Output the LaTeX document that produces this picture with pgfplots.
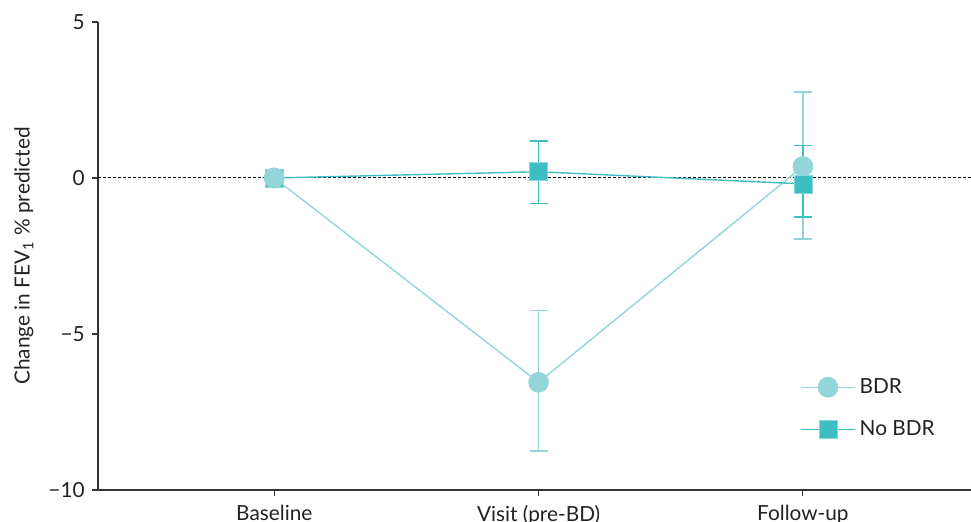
\documentclass[border=0pt]{standalone}
\usepackage{pgfplots}
\pgfplotsset{compat=1.18}
\usepackage{fontspec}
\setmainfont{Lato}
\definecolor{bdr}{HTML}{93D5D9}
\definecolor{nobdr}{HTML}{3DBEC2}
\definecolor{axc}{HTML}{333333}
\definecolor{txt}{HTML}{222222}
\begin{document}
\fontsize{10.4}{12}\selectfont
\begin{tikzpicture}
\useasboundingbox (-49pt,-16pt) rectangle (436.5pt,245pt);
\begin{axis}[
  scale only axis,
  width=436.5pt, height=234pt,
  at={(0,0)}, anchor=south west,
  xmin=-0.667, xmax=2.636,
  ymin=-10, ymax=5,
  axis x line=bottom, axis y line=left,
  axis line style={-, axc, line width=0.75pt},
  xtick={0,1,2},
  xticklabels={Baseline, Visit (pre-BD), Follow-up},
  ytick={-10,-5,0,5},
  yticklabels={−10,−5,0,5},
  tick style={axc, line width=0.6pt},
  tick align=outside,
  major tick length=3pt,
  tick label style={font=\fontsize{10.4}{12}\selectfont, text=txt},
  xticklabel style={yshift=-1pt},
  ylabel={Change in FEV\textsubscript{1} \% predicted},
  ylabel style={at={(axis description cs:-0.0848,0.5)}, anchor=center, font=\fontsize{10.4}{12}\selectfont, text=txt},
  legend style={draw=none, fill=none, at={(axis cs:1.966,-6.15)}, anchor=north west,
    font=\fontsize{10.4}{12}\selectfont, text=txt, row sep=8pt,
    /tikz/every even column/.append style={column sep=0pt}},
  legend cell align=left,
  legend image code/.code={\draw[mark repeat=2,mark phase=2,#1] plot coordinates {(0pt,0pt)(13.5pt,0pt)(27pt,0pt)};},
  clip=false,
]
\draw[black, line width=0.5pt, dash pattern=on 1.5pt off 1pt] (axis cs:-0.667,0) -- (axis cs:2.636,0);
\addplot[color=bdr, line width=0.7pt, mark=*, mark size=5pt,
  mark options={fill=bdr, draw=bdr, line width=0.3pt},
  error bars/.cd, y dir=both, y explicit,
  error bar style={color=bdr, line width=0.9pt},
  error mark options={rotate=90, mark size=4.5pt, line width=0.9pt, color=bdr}]
  coordinates {
  (0,0)
  (1,-6.55) += (0,2.30) -= (0,2.20)
  (2,0.37) += (0,2.39) -= (0,2.32)
  };
\addlegendentry{BDR}
\addplot[color=nobdr, line width=0.7pt, mark=square*, mark size=4.5pt,
  mark options={fill=nobdr, draw=nobdr!60!white, line width=0.3pt},
  error bars/.cd, y dir=both, y explicit,
  error bar style={color=nobdr, line width=0.9pt},
  error mark options={rotate=90, mark size=4.5pt, line width=0.9pt, color=nobdr}]
  coordinates {
  (0,0)
  (1,0.20) += (0,0.99) -= (0,1.02)
  (2,-0.19) += (0,1.23) -= (0,1.05)
  };
\addlegendentry{No BDR}
\addplot[color=bdr, mark=*, mark size=5pt, mark options={fill=bdr, draw=bdr}, only marks, forget plot] coordinates {(0,0)};
\end{axis}
\end{tikzpicture}
\end{document}
